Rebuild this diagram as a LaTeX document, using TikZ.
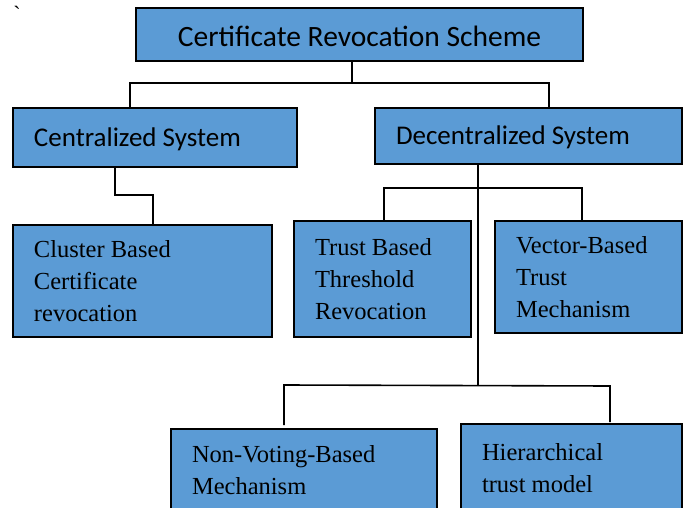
\documentclass[tikz,border=0pt]{standalone}
\usepackage{fontspec}
\setmainfont{Liberation Serif}
\newfontfamily\headfont{Carlito}
\definecolor{boxblue}{RGB}{91,155,213}

\begin{document}
\begin{tikzpicture}[x=1pt, y=-1pt,
    box/.style={draw, fill=boxblue, line width=1.8pt, rectangle, inner xsep=21pt, inner ysep=0pt, align=flush left},
    head/.style={box, font=\headfont\fontsize{27}{30}\selectfont, text height=23pt, text depth=5pt},
    leaf/.style={box, font=\fontsize{24.5}{32}\selectfont},
    link/.style={line width=1.6pt}]
    \useasboundingbox (0,0) rectangle (683,508);

    % Stray mark
    \node[font=\fontsize{22}{22}\selectfont, inner sep=0pt] (tick) at (17,14) {\textasciigrave};

    % Define boxes
    \node[head, line width=2.8pt, align=center, font=\headfont\fontsize{29.5}{30}\selectfont,
          text height=24pt, text depth=0pt,
          minimum width=447pt, minimum height=53pt] (root) at (359.5,34.5) {Certificate Revocation Scheme};
    \node[head, line width=2.8pt, text width=242pt, minimum height=59pt] (cent) at (155,137.5) {Centralized System};
    \node[head, text width=265pt, minimum height=56pt] (decent) at (528.5,136) {Decentralized System};

    \node[leaf, text width=217pt, minimum height=112pt] (cluster) at (142.5,281) {Cluster Based\\Certificate\\revocation};
    \node[leaf, text width=135pt, minimum height=116pt] (trust) at (382.5,279) {Trust Based\\Threshold\\Revocation};
    \node[leaf, text width=145pt, minimum height=112pt] (vector) at (588.5,277) {Vector-Based\\Trust\\Mechanism};

    \node[leaf, text width=224pt, minimum height=82pt] (nonvote) at (304,470) {Non-Voting-Based\\Mechanism};
    \node[leaf, text width=179pt, minimum height=88pt] (hier) at (571.5,468) {Hierarchical\\trust model};

    % Bus coordinates
    \coordinate (busM) at (352,83);
    \coordinate (busA) at (130,83);
    \coordinate (busB) at (549,83);
    \coordinate (jogA) at (115,195);
    \coordinate (jogB) at (153,195);
    \coordinate (busC) at (384,188);
    \coordinate (busD) at (582,188);
    \coordinate (trunk) at (478,385);
    \coordinate (busE) at (284,385);
    \coordinate (busF) at (610,386);
    \coordinate (dropE) at (284,425);
    \coordinate (dropF) at (610,422);

    % Connectors
    \draw[link] (root.south -| busM) -- (busM);
    \draw[link] (cent.north -| busA) -- (busA) -- (busB) -- (decent.north -| busB);
    \draw[link] (cent.south -| jogA) -- (jogA) -- (jogB) -- (cluster.north -| jogB);
    \draw[link] (trust.north -| busC) -- (busC) -- (busD) -- (vector.north -| busD);
    \draw[link] (decent.south -| trunk) -- (trunk);
    \draw[link] (dropE) -- (busE) -- (busF) -- (dropF);

\end{tikzpicture}
\end{document}
